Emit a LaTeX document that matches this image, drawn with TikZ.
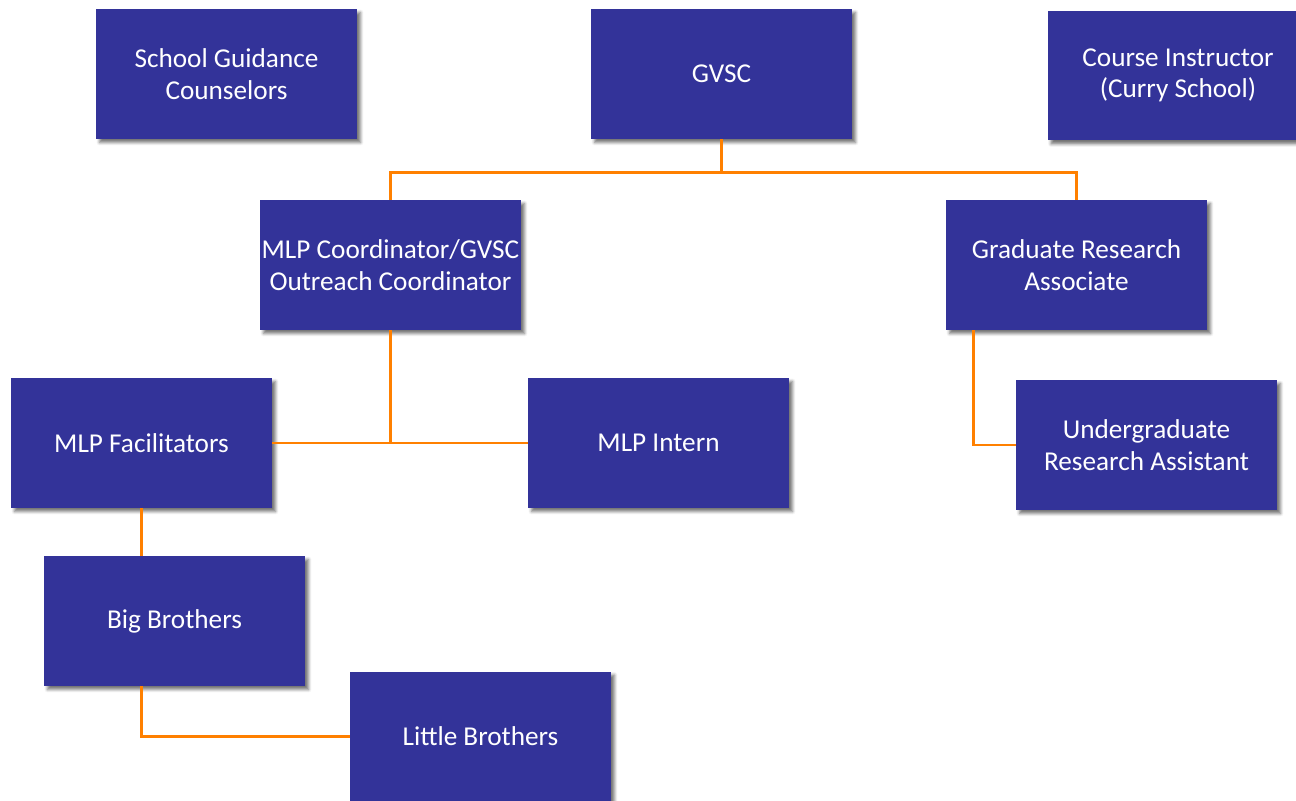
\documentclass[tikz,border=0pt]{standalone}
\usepackage{fontspec}
\setmainfont{Carlito}
\usepackage{xcolor}
\usetikzlibrary{positioning,shadows.blur}

\definecolor{boxblue}{HTML}{333399}
\definecolor{linkorange}{HTML}{FF8000}

\begin{document}
\begin{tikzpicture}[
  x=0.02cm, y=-0.02cm,
  box/.style={
    rectangle,
    align=center,
    inner xsep=0pt,
    minimum width=5.22cm,
    minimum height=2.6cm,
    fill=boxblue,
    text=white,
    font=\fontsize{15.5}{18}\selectfont,
    blur shadow={shadow xshift=0.07cm, shadow yshift=-0.07cm, shadow blur radius=0.06cm, shadow opacity=55}
  },
  link/.style={draw=linkorange, line width=1.7pt}
]
  \useasboundingbox (0,0) rectangle (1296,801);

  \node[box] (counselors) at (226.5,74) {School Guidance\\Counselors};
  \node[box] (gvsc) at (721.5,74) {GVSC};
  \node[box] (instructor) at (1178,75.5) {Course Instructor\\(Curry School)};

  \node[box] (coord) at (390.5,265) {MLP Coordinator/GVSC\\Outreach Coordinator};
  \node[box] (gra) at (1076.5,265) {Graduate Research\\Associate};

  \node[box] (fac) at (141.5,443) {MLP Facilitators};
  \node[box] (intern) at (658.5,443) {MLP Intern};
  \node[box] (ugra) at (1146.5,445) {Undergraduate\\Research Assistant};

  \node[box] (big) at (174.5,621) {Big Brothers};
  \node[box] (little) at (480.5,736.5) {Little Brothers};

  % GVSC branches
  \draw[link] (gvsc.south) -- ++(0,33) -| (coord.north);
  \draw[link] (gvsc.south) -- ++(0,33) -| (gra.north);

  % coordinator level
  \draw[link] (coord.south) -- (coord.south |- fac.east);
  \draw[link] (fac.east) -- (intern.west);
  \draw[link] ([xshift=-2.07cm]gra.south) |- (ugra.west);

  % brothers
  \draw[link] (fac.south) -- (fac.south |- big.north);
  \draw[link] ([xshift=-0.67cm]big.south) |- (little.west);
\end{tikzpicture}
\end{document}
